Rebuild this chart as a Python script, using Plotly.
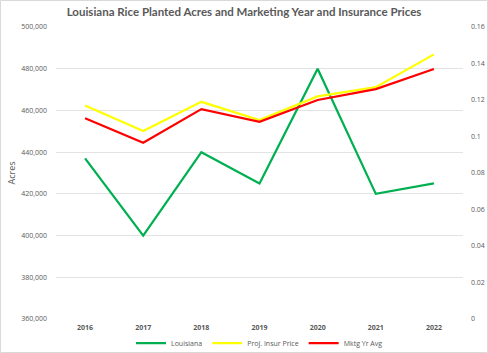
import plotly.graph_objects as go

years = ["2016", "2017", "2018", "2019", "2020", "2021", "2022"]
louisiana_acres = [437000, 400000, 440000, 425000, 480000, 420000, 425000]
proj_insur_price = [0.117, 0.103, 0.119, 0.109, 0.122, 0.127, 0.145]
mktg_yr_avg = [0.110, 0.0966, 0.115, 0.108, 0.120, 0.126, 0.137]

W, H = 488, 353
ML, MR, MT, MB = 56, 25, 27, 34
pw, ph = W - ML - MR, H - MT - MB

gray = "#595959"
font = "Open Sans"

fig = go.Figure()
fig.add_trace(go.Scatter(x=years, y=louisiana_acres, name="Louisiana", mode="lines",
                         line=dict(color="#00B050", width=2.25)))
fig.add_trace(go.Scatter(x=years, y=proj_insur_price, name="Proj. Insur Price", mode="lines",
                         line=dict(color="#FFFF00", width=2.25), yaxis="y2"))
fig.add_trace(go.Scatter(x=years, y=mktg_yr_avg, name="Mktg Yr Avg", mode="lines",
                         line=dict(color="#FF0000", width=2.25), yaxis="y2"))

fig.update_layout(
    template="none",
    width=W, height=H,
    margin=dict(l=ML, r=MR, t=MT, b=MB, autoexpand=False),
    paper_bgcolor="white", plot_bgcolor="white",
    font=dict(family=font, color=gray, size=7),
    title=dict(text="<b>Louisiana Rice Planted Acres and Marketing Year and Insurance Prices</b>",
               x=0.5, xanchor="center", y=1 - 12 / H, yanchor="middle",
               font=dict(size=11.5, color=gray, family="Lato")),
    xaxis=dict(type="category", range=[-0.5, 6.5], tickmode="array", tickvals=years,
               ticktext=["<b>%s</b>" % y for y in years],
               showgrid=False, showline=False, ticks="", zeroline=False,
               tickfont=dict(size=7, color=gray, family=font), ticklabelstandoff=3),
    yaxis=dict(range=[360000, 500000], dtick=20000, tickformat=",", showgrid=True,
               gridcolor="#e3e3e3", gridwidth=1, zeroline=False, showline=False, ticks="",
               tickfont=dict(size=7, color=gray), ticklabelstandoff=8,
               title=dict(text="Acres", font=dict(size=9, color=gray), standoff=4)),
    yaxis2=dict(range=[0, 0.16], dtick=0.02, overlaying="y", side="right", showgrid=False,
                zeroline=False, showline=False, ticks="", tickfont=dict(size=7, color=gray),
                ticklabelstandoff=7),
    legend=dict(orientation="h", x=0.5, xanchor="center", y=-(343 - MT - ph) / ph,
                yanchor="middle", font=dict(size=7, color=gray), bgcolor="rgba(0,0,0,0)",
                tracegroupgap=0),
    showlegend=True,
)

fig.add_shape(type="rect", xref="paper", yref="paper",
              x0=(0.5 - ML) / pw, x1=(W - 0.5 - ML) / pw,
              y0=-(H - 0.5 - MT - ph) / ph, y1=(ph + MT - 0.5) / ph,
              line=dict(color="#d9d9d9", width=1), fillcolor="rgba(0,0,0,0)", layer="below")

fig.write_html("out.html")
